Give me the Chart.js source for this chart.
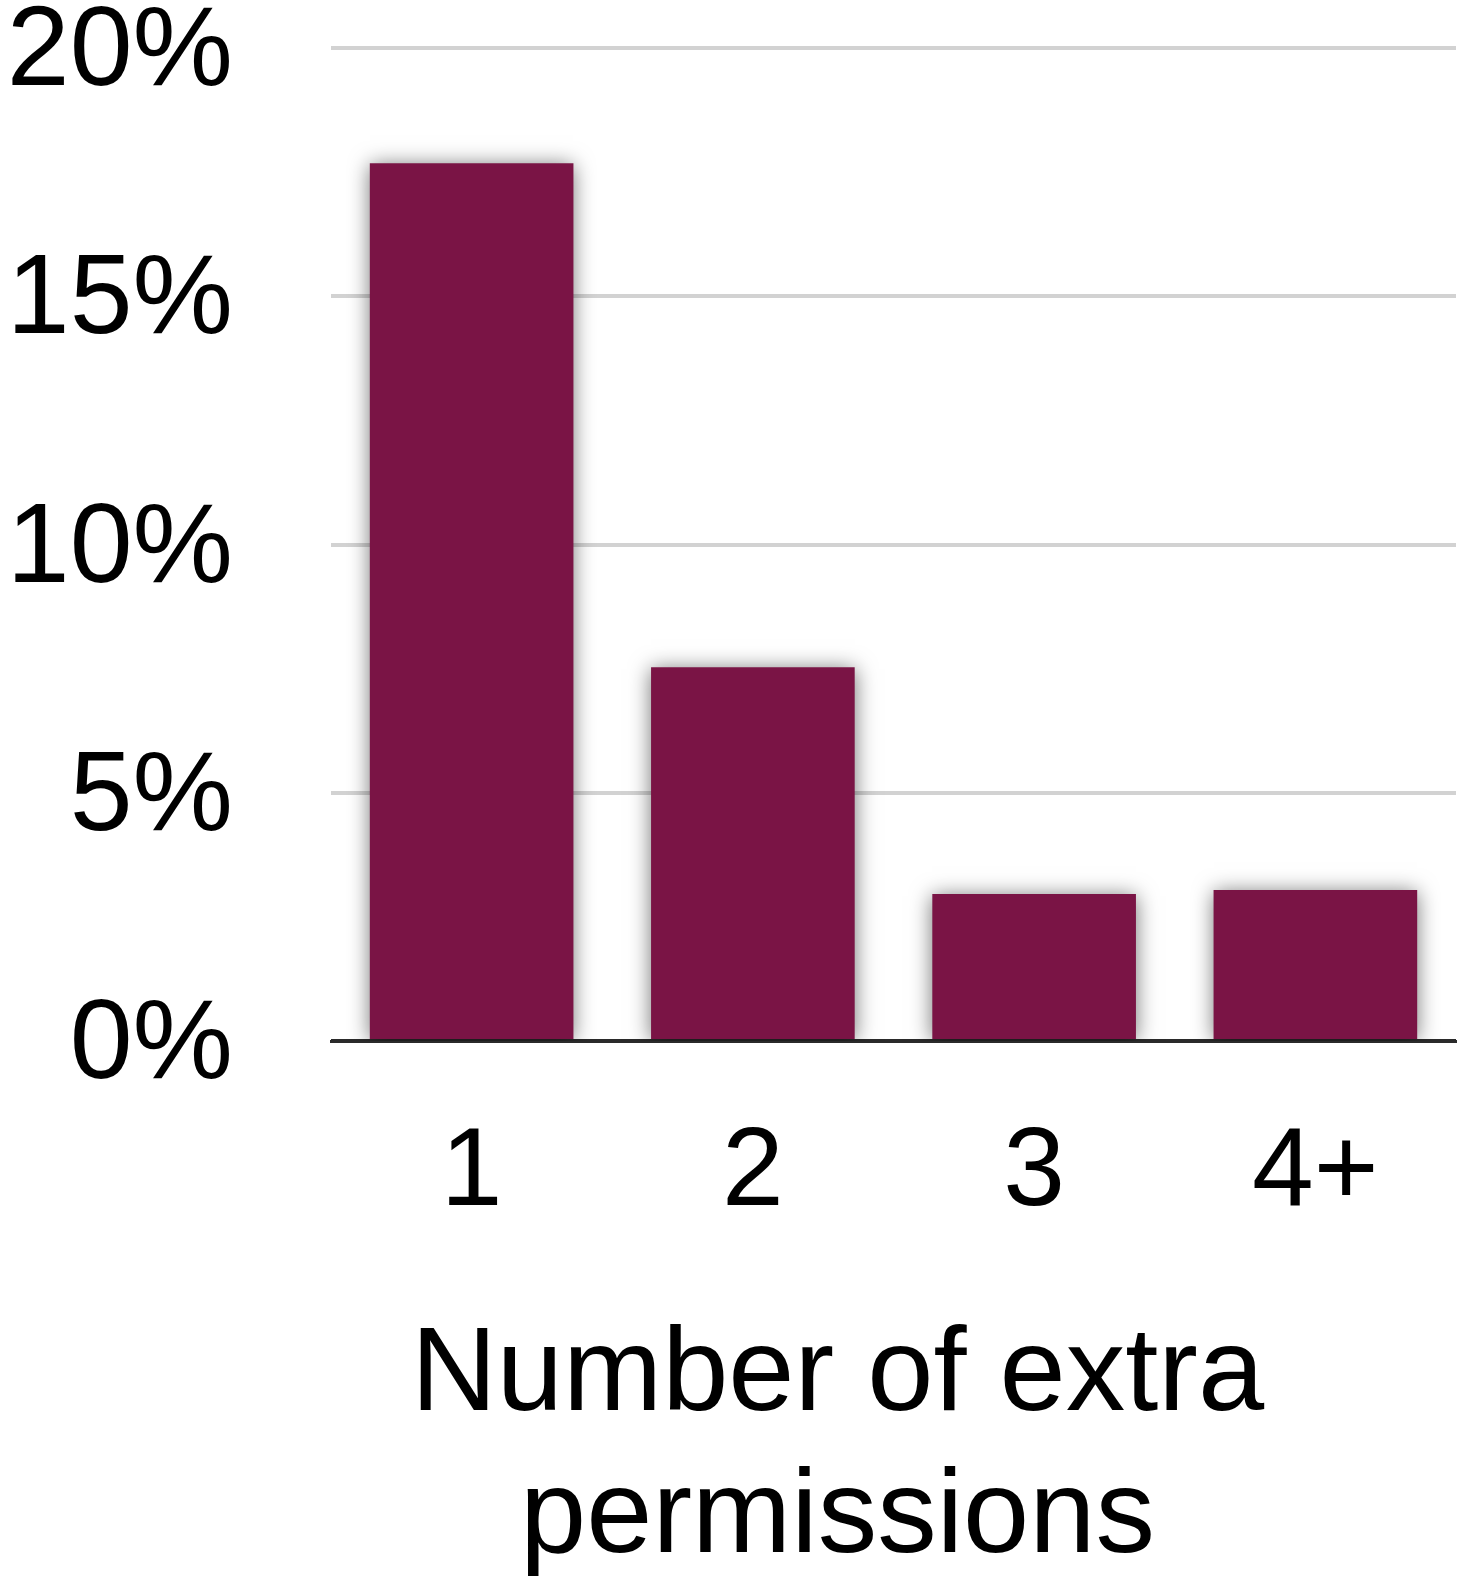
<!DOCTYPE html>
<html>
<head>
<meta charset="utf-8">
<script src="https://cdn.jsdelivr.net/npm/chart.js@4"></script>
<style>
  html, body { margin: 0; padding: 0; background: #ffffff; overflow: hidden; }
  canvas { display: block; }
</style>
</head>
<body>
<canvas id="c" width="1466" height="1576"></canvas>
<script>
const categories = ['1', '2', '3', '4+'];
const shareValues = [17.68, 7.53, 2.96, 3.04];
const yTickValues = [0, 5, 10, 15, 20];
const axisTitle = ['Number of extra', 'permissions'];

const barShadow = {
  id: 'barShadow',
  beforeDatasetsDraw(chart) {
    const ctx = chart.ctx;
    ctx.save();
    ctx.shadowColor = 'rgba(0,0,0,0.55)';
    ctx.shadowBlur = 20;
    ctx.shadowOffsetX = 0;
    ctx.shadowOffsetY = 2;
  },
  afterDatasetsDraw(chart) {
    chart.ctx.restore();
  }
};

const titleShift = {
  id: 'titleShift',
  afterLayout(chart) {
    const s = chart.scales.x;
    if (s && !s._shiftWrapped) {
      const orig = s.drawTitle.bind(s);
      s.drawTitle = function () {
        chart.ctx.save();
        chart.ctx.translate(-56, 0);
        orig();
        chart.ctx.restore();
      };
      s._shiftWrapped = true;
    }
  }
};

new Chart(document.getElementById('c'), {
  type: 'bar',
  data: {
    labels: categories,
    datasets: [{
      data: shareValues,
      backgroundColor: '#7a1445',
      borderWidth: 0,
      barPercentage: 0.724,
      categoryPercentage: 1.0
    }]
  },
  plugins: [barShadow, titleShift],
  options: {
    responsive: false,
    maintainAspectRatio: false,
    devicePixelRatio: 1,
    animation: false,
    layout: { padding: { top: 48, right: 10, left: 0, bottom: 0 } },
    plugins: { legend: { display: false }, tooltip: { enabled: false } },
    scales: {
      x: {
        z: 1,
        grid: { display: false, drawTicks: false },
        border: { display: true, color: '#2a2a2a', width: 3 },
        ticks: {
          color: '#000',
          padding: 67,
          font: { family: 'Liberation Sans', size: 111, lineHeight: 1.2 }
        },
        title: {
          display: true,
          text: axisTitle,
          color: '#000',
          padding: { top: 0, bottom: -15 },
          font: { family: 'Liberation Sans', size: 119, lineHeight: 1.2 }
        },
        afterFit(scale) {
          scale.height = 535;
          scale.paddingLeft = 0;
          scale.paddingRight = 0;
        }
      },
      y: {
        min: 0,
        max: 20,
        afterBuildTicks(scale) {
          scale.ticks = yTickValues.map(v => ({ value: v }));
        },
        grid: {
          drawTicks: false,
          color: ctx => ctx.tick && ctx.tick.value === 0 ? '#2a2a2a' : '#d2d2d2',
          lineWidth: 4
        },
        border: { display: false },
        ticks: {
          color: '#000',
          padding: 98,
          labelOffset: 6,
          font: { family: 'Liberation Sans', size: 113, lineHeight: 1.2 },
          callback: v => v + '%'
        },
        afterFit(scale) {
          scale.width = 331;
          scale.paddingTop = 0;
          scale.paddingBottom = 0;
        }
      }
    }
  }
});
</script>
</body>
</html>
